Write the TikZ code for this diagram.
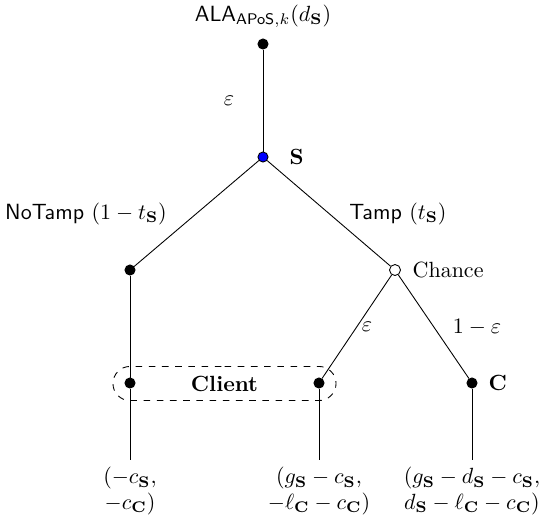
\documentclass[tikz,border=0pt]{standalone}
\usepackage{amsmath,amssymb}
\usetikzlibrary{shapes.misc}
\begin{document}
\begin{tikzpicture}[x=0.4545pt,y=-0.4545pt,
  dec/.style={circle,fill=black,draw=black,inner sep=0pt,minimum size=4.6pt},
  decS/.style={circle,fill=blue,draw=black,inner sep=0pt,minimum size=4.6pt},
  chance/.style={circle,fill=white,draw=black,inner sep=0pt,minimum size=5pt},
  edge/.style={draw=black,line width=0.4pt},
  lbl/.style={inner sep=1pt},
  payoff/.style={align=center,anchor=north,inner sep=0pt}]
\useasboundingbox (0,0) rectangle (542,524);
\node[dec] (root) at (263,44) {};
\node[decS] (S) at (263,157) {};
\node[dec] (nt) at (130,270) {};
\node[chance] (ch) at (395,270) {};
\node[dec] (cl1) at (130,383) {};
\node[dec] (cl2) at (319,383) {};
\node[dec] (cn) at (472,383) {};
\coordinate (e1) at (130,460);
\coordinate (e2) at (319,460);
\coordinate (e3) at (472,460);
\draw[edge] (root) -- (S);
\draw[edge] (S) -- (nt);
\draw[edge] (S) -- (ch);
\draw[edge] (nt) -- (cl1);
\draw[edge] (ch) -- (cl2);
\draw[edge] (ch) -- (cn);
\draw[edge] (cl1) -- (e1);
\draw[edge] (cl2) -- (e2);
\draw[edge] (cn) -- (e3);
\node[draw,dashed,rounded rectangle,minimum width=101.4pt,minimum height=15.5pt,inner sep=0pt] (info) at (224.5,383.5) {\textbf{Client}};
\node[lbl,anchor=south] (rootlbl) at (263,30) {$\mathsf{ALA}_{\mathsf{APoS},k}(d_{\mathbf{S}})$};
\node[lbl] (eps1) at (229,101) {$\varepsilon$};
\node[lbl,anchor=west] (Slbl) at (287,157) {$\mathbf{S}$};
\node[lbl] (ntlbl) at (86,214) {$\mathsf{NoTamp}\ (1-t_{\mathbf{S}})$};
\node[lbl] (tlbl) at (398,214) {$\mathsf{Tamp}\ (t_{\mathbf{S}})$};
\node[lbl,anchor=west] (chlbl) at (410,270) {Chance};
\node[lbl] (eps2) at (367,327) {$\varepsilon$};
\node[lbl] (eps3) at (477,327) {$1-\varepsilon$};
\node[lbl,anchor=west] (Clbl) at (486,383) {$\mathbf{C}$};
\node[payoff] (p1) at (130,467) {$(-c_{\mathbf{S}},$\\[-0.5pt]$-c_{\mathbf{C}})$};
\node[payoff] (p2) at (319,467) {$(g_{\mathbf{S}}-c_{\mathbf{S}},$\\[-0.5pt]$-\ell_{\mathbf{C}}-c_{\mathbf{C}})$};
\node[payoff] (p3) at (472,467) {$(g_{\mathbf{S}}-d_{\mathbf{S}}-c_{\mathbf{S}},$\\[-0.5pt]$d_{\mathbf{S}}-\ell_{\mathbf{C}}-c_{\mathbf{C}})$};
\end{tikzpicture}
\end{document}
